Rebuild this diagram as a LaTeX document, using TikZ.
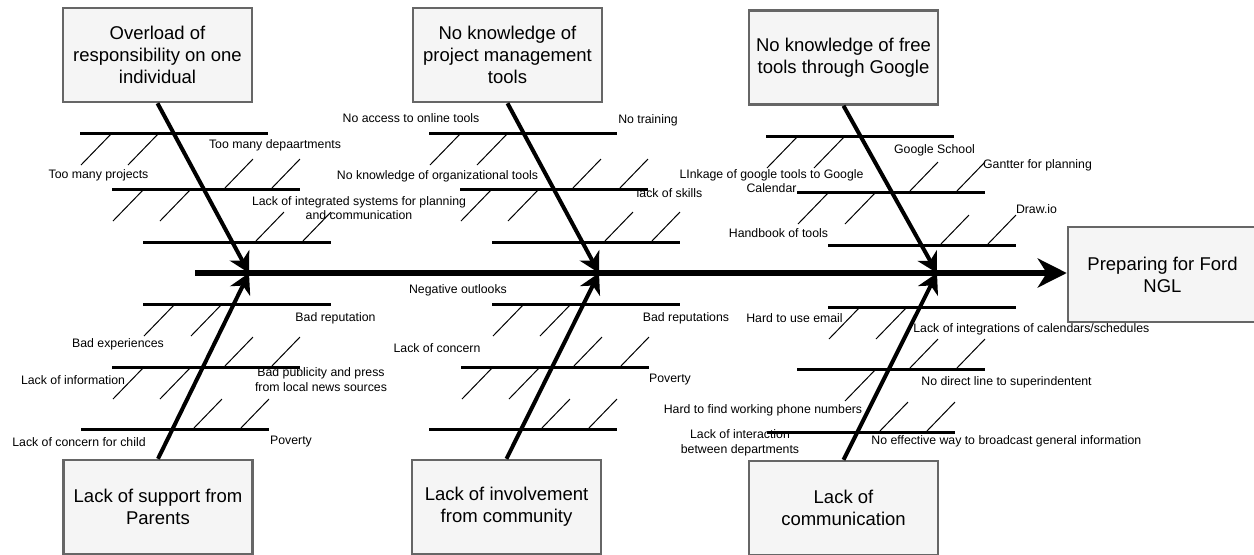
\documentclass[tikz,border=0pt]{standalone}
\usepackage{fontspec}
\setmainfont{Liberation Sans}
\usepackage{tikz}
\usetikzlibrary{arrows.meta}
\definecolor{boxfill}{HTML}{F5F5F5}
\definecolor{boxgray}{HTML}{666666}
\tikzset{
    causebox/.style={draw=boxgray, fill=boxfill, line width=1.25pt, minimum width=94.5pt, minimum height=47pt, inner sep=0pt, align=center, font=\fontsize{9.25}{11}\selectfont},
    spine/.style={line width=3pt, -{Stealth[length=14.5pt, width=14.5pt, inset=4.5pt]}},
    bone/.style={line width=2pt, -{Stealth[length=10pt, width=11pt, inset=3pt]}},
    rib/.style={line width=1.5pt},
    twig/.style={line width=0.5pt},
    lbl/.style={inner sep=0pt, align=center, font=\fontsize{6.15}{7.2}\selectfont}
}

\begin{document}
\begin{tikzpicture}[x=0.5pt, y=-0.5pt]
    \useasboundingbox (0,0) rectangle (1254,554);

    % Effect and cause boxes
    \node[causebox, minimum height=47.5pt] (ford) at (1162.5,274.5) {Preparing for Ford\\NGL};
    \node[causebox] (overload) at (157.5,55) {Overload of\\responsibility on one\\individual};
    \node[causebox] (pmtools) at (507.5,55) {No knowledge of\\project management\\tools};
    \node[causebox] (freetools) at (843.5,57.5) {No knowledge of free\\tools through Google};
    \node[causebox] (parents) at (158,507) {Lack of support from\\Parents};
    \node[causebox] (community) at (506.5,507) {Lack of involvement\\from community};
    \node[causebox] (communication) at (843.5,508) {Lack of\\communication};

    % Spine
    \coordinate (tail) at (195,273);
    \coordinate (j1) at (249,273);
    \coordinate (j2) at (599,273);
    \coordinate (j3) at (937,273);
    \draw[spine] (tail) -- (tail -| ford.west);

    % Bones
    \draw[bone] (overload.south) -- (j1);
    \draw[bone] (pmtools.south) -- (j2);
    \draw[bone] (freetools.south) -- (j3);
    \draw[bone] (parents.north) -- (j1);
    \draw[bone] (community.north) -- (j2);
    \draw[bone] (communication.north) -- (j3);

    % Ribs: overload
    \draw[rib] (80,133) -- ++(188,0);
    \draw[twig] (112,133) -- ++(-31,32) (159,133) -- ++(-31,32);
    \draw[rib] (112,189) -- ++(188,0);
    \draw[twig] (224,189) -- ++(29,-30) (271,189) -- ++(29,-30) (144,189) -- ++(-31,32) (191,189) -- ++(-31,32);
    \draw[rib] (143,242) -- ++(188,0);
    \draw[twig] (255,242) -- ++(29,-30) (302,242) -- ++(29,-30);

    % Ribs: project management tools
    \draw[rib] (429,133) -- ++(188,0);
    \draw[twig] (461,133) -- ++(-31,32) (508,133) -- ++(-31,32);
    \draw[rib] (460,189) -- ++(188,0);
    \draw[twig] (572,189) -- ++(29,-30) (619,189) -- ++(29,-30) (492,189) -- ++(-31,32) (539,189) -- ++(-31,32);
    \draw[rib] (492,242) -- ++(188,0);
    \draw[twig] (604,242) -- ++(29,-30) (651,242) -- ++(29,-30);

    % Ribs: free tools
    \draw[rib] (766,136) -- ++(188,0);
    \draw[twig] (798,136) -- ++(-31,32) (845,136) -- ++(-31,32);
    \draw[rib] (797,192) -- ++(188,0);
    \draw[twig] (909,192) -- ++(29,-30) (956,192) -- ++(29,-30) (829,192) -- ++(-31,32) (876,192) -- ++(-31,32);
    \draw[rib] (828,245) -- ++(188,0);
    \draw[twig] (940,245) -- ++(29,-30) (987,245) -- ++(29,-30);

    % Ribs: parents
    \draw[rib] (143,304) -- ++(188,0);
    \draw[twig] (175,304) -- ++(-31,32) (222,304) -- ++(-31,32);
    \draw[rib] (112,367) -- ++(188,0);
    \draw[twig] (224,367) -- ++(29,-30) (271,367) -- ++(29,-30) (144,367) -- ++(-31,32) (191,367) -- ++(-31,32);
    \draw[rib] (81,429) -- ++(188,0);
    \draw[twig] (193,429) -- ++(29,-30) (240,429) -- ++(29,-30);

    % Ribs: community
    \draw[rib] (492,304) -- ++(188,0);
    \draw[twig] (524,304) -- ++(-31,32) (571,304) -- ++(-31,32);
    \draw[rib] (461,367) -- ++(188,0);
    \draw[twig] (573,367) -- ++(29,-30) (620,367) -- ++(29,-30) (493,367) -- ++(-31,32) (540,367) -- ++(-31,32);
    \draw[rib] (429,429) -- ++(188,0);
    \draw[twig] (541,429) -- ++(29,-30) (588,429) -- ++(29,-30);

    % Ribs: communication
    \draw[rib] (828,307) -- ++(188,0);
    \draw[twig] (860,307) -- ++(-31,32) (907,307) -- ++(-31,32);
    \draw[rib] (797,369) -- ++(188,0);
    \draw[twig] (909,369) -- ++(29,-30) (956,369) -- ++(29,-30) (876,369) -- ++(-31,32);
    \draw[rib] (767,432) -- ++(188,0);
    \draw[twig] (879,432) -- ++(29,-30) (926,432) -- ++(29,-30);

    % Labels above the spine
    \node[lbl] (depts) at (275,145) {Too many depaartments};
    \node[lbl] (projects) at (98.5,175) {Too many projects};
    \node[lbl] (integrated) at (359,208) {Lack of integrated systems for planning\\and communication};
    \node[lbl] (access) at (411,118) {No access to online tools};
    \node[lbl] (training) at (648,120) {No training};
    \node[lbl] (orgtools) at (437.5,176) {No knowledge of organizational tools};
    \node[lbl] (skills) at (669.5,193) {lack of skills};
    \node[lbl] (linkage) at (771.5,181) {LInkage of google tools to Google\\Calendar};
    \node[lbl] (school) at (934.5,150) {Google School};
    \node[lbl] (gantter) at (1037.5,165) {Gantter for planning};
    \node[lbl] (handbook) at (778.5,233) {Handbook of tools};
    \node[lbl] (drawio) at (1036.5,209) {Draw.io};

    % Labels below the spine
    \node[lbl] (badrep) at (335.5,318) {Bad reputation};
    \node[lbl] (badexp) at (118,344) {Bad experiences};
    \node[lbl] (info) at (73,380) {Lack of information};
    \node[lbl] (publicity) at (321,379.5) {Bad publicity and press\\from local news sources};
    \node[lbl] (child) at (79,442) {Lack of concern for child};
    \node[lbl] (poverty) at (291,442) {Poverty};
    \node[lbl] (outlooks) at (458,290) {Negative outlooks};
    \node[lbl] (badreps) at (686,318) {Bad reputations};
    \node[lbl] (concern) at (437,348) {Lack of concern};
    \node[lbl] (povertyb) at (670,380) {Poverty};
    \node[lbl] (phone) at (763,410) {Hard to find working phone numbers};
    \node[lbl] (interaction) at (740,443) {Lack of interaction\\between departments};
    \node[lbl] (email) at (794.5,318) {Hard to use email};
    \node[lbl, anchor=west] (calendars) at (913,329) {Lack of integrations of calendars/schedules};
    \node[lbl] (direct) at (1006.5,382) {No direct line to superindentent};
    \node[lbl, anchor=west] (broadcast) at (871,441) {No effective way to broadcast general information};
\end{tikzpicture}
\end{document}
